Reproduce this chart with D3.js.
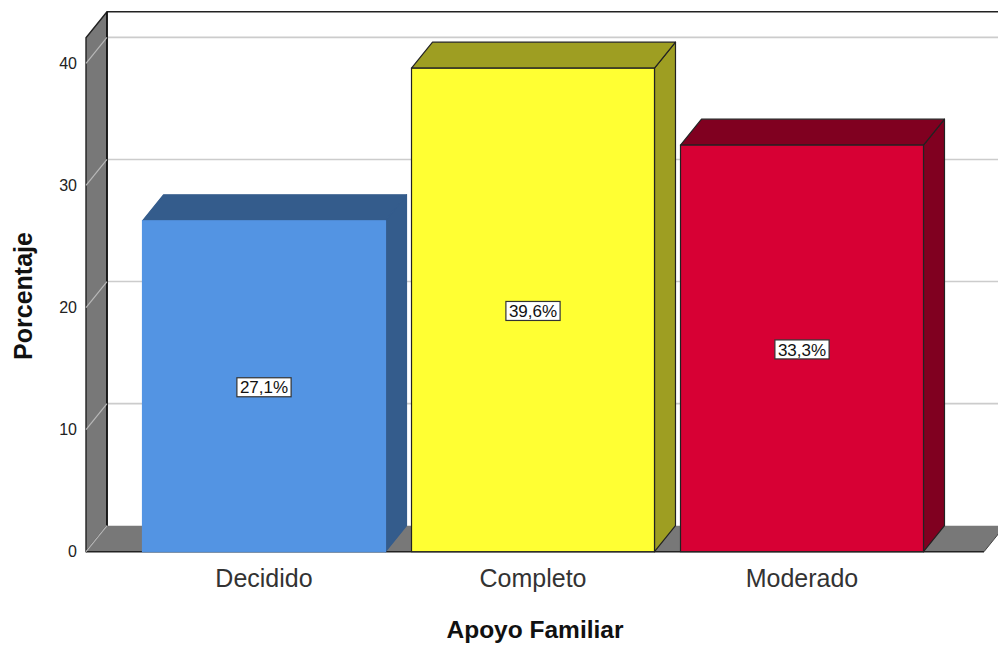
<!DOCTYPE html>
<html>
<head>
<meta charset="utf-8">
<script src="https://cdn.jsdelivr.net/npm/d3@7"></script>
<style>
  html, body { margin: 0; padding: 0; background: #ffffff; }
  svg { display: block; }
  text { font-family: "Liberation Sans", Arial, sans-serif; }
</style>
</head>
<body>
<svg id="chart" width="998" height="646"></svg>
<script>
// ---- data ----
const categories = ["Decidido", "Completo", "Moderado"];
const values = [27.1, 39.6, 33.3];
const valueLabels = ["27,1%", "39,6%", "33,3%"];
const yTicks = [0, 10, 20, 30, 40];
const frontColors = ["#5394e3", "#ffff33", "#d70034"];
const shadeColors = ["#345c8c", "#9e9e22", "#800020"];
const outlined = [false, true, true];
const xTitle = "Apoyo Familiar";
const yTitle = "Porcentaje";

// ---- layout ----
const svg = d3.select("#chart");
const front = { left: 86, right: 984, bottom: 551.7, top: 37.7 };
const depth = { dx: 21, dy: -26 };

const y = d3.scaleLinear().domain([0, 42.1]).range([front.bottom, front.top]);
const x = d3.scaleBand().domain(categories).range([front.left - 2, front.right - 2])
  .paddingInner(0.0967).paddingOuter(0.2175);

const poly = pts => pts.map(p => p.join(",")).join(" ");

// back wall gridlines
const grid = svg.append("g");
yTicks.filter(t => t > 0).forEach(t => {
  const yy = y(t);
  grid.append("line")
    .attr("x1", front.left + depth.dx).attr("x2", 998)
    .attr("y1", yy + depth.dy).attr("y2", yy + depth.dy)
    .attr("stroke", "#cccccc").attr("stroke-width", 1.6);
});
// back wall top edge
svg.append("line")
  .attr("x1", front.left + depth.dx).attr("x2", 998)
  .attr("y1", y(42.1) + depth.dy).attr("y2", y(42.1) + depth.dy)
  .attr("stroke", "#222").attr("stroke-width", 1.6);

// left wall
const yTop = y(42.1), yBot = y(0);
svg.append("polygon")
  .attr("points", poly([[front.left, yBot], [front.left, yTop],
    [front.left + depth.dx, yTop + depth.dy], [front.left + depth.dx, yBot + depth.dy]]))
  .attr("fill", "#787878").attr("stroke", "#222").attr("stroke-width", 1.4)
  .attr("stroke-linejoin", "round");

// floor
svg.append("polygon")
  .attr("points", poly([[front.left, yBot], [front.right, yBot],
    [front.right + depth.dx, yBot + depth.dy], [front.left + depth.dx, yBot + depth.dy]]))
  .attr("fill", "#787878");
svg.append("line")
  .attr("x1", front.left).attr("x2", front.right)
  .attr("y1", yBot).attr("y2", yBot)
  .attr("stroke", "#222").attr("stroke-width", 1.6);
svg.append("line")
  .attr("x1", front.right).attr("x2", front.right + depth.dx)
  .attr("y1", yBot).attr("y2", yBot + depth.dy)
  .attr("stroke", "#444").attr("stroke-width", 1);
// back wall left edge
svg.append("line")
  .attr("x1", front.left + depth.dx).attr("x2", front.left + depth.dx)
  .attr("y1", yTop + depth.dy).attr("y2", yBot + depth.dy)
  .attr("stroke", "#111").attr("stroke-width", 1.6);

// gridlines on left wall (diagonal)
yTicks.forEach(t => {
  const yy = y(t);
  svg.append("line")
    .attr("x1", front.left).attr("y1", yy)
    .attr("x2", front.left + depth.dx).attr("y2", yy + depth.dy)
    .attr("stroke", "#b8b8b8").attr("stroke-width", 1.2);
});

// y tick labels
svg.append("g").selectAll("text").data(yTicks).join("text")
  .attr("x", 77).attr("y", d => y(d)).attr("dy", "0.36em")
  .attr("text-anchor", "end").attr("font-size", 16).attr("fill", "#222")
  .text(d => d);

// bars
const bars = svg.append("g");
categories.forEach((c, i) => {
  const x0 = x(c), x1 = x(c) + x.bandwidth();
  const yv = y(values[i]), y0 = y(0);
  const g = bars.append("g");
  const sw = 1.2;
  const edge = outlined[i] ? "#222" : null;
  // side
  g.append("polygon")
    .attr("points", poly([[x1, y0], [x1, yv], [x1 + depth.dx, yv + depth.dy], [x1 + depth.dx, y0 + depth.dy]]))
    .attr("fill", shadeColors[i]).attr("stroke", edge || shadeColors[i])
    .attr("stroke-width", sw).attr("stroke-linejoin", "round");
  // top
  g.append("polygon")
    .attr("points", poly([[x0, yv], [x1, yv], [x1 + depth.dx, yv + depth.dy], [x0 + depth.dx, yv + depth.dy]]))
    .attr("fill", shadeColors[i]).attr("stroke", edge || shadeColors[i])
    .attr("stroke-width", sw).attr("stroke-linejoin", "round");
  // front
  g.append("rect")
    .attr("x", x0).attr("y", yv).attr("width", x.bandwidth()).attr("height", y0 - yv)
    .attr("fill", frontColors[i]).attr("stroke", edge || frontColors[i])
    .attr("stroke-width", sw);
});

// value labels
categories.forEach((c, i) => {
  const cx = x(c) + x.bandwidth() / 2;
  const cy = y(values[i] / 2) + 1;
  const g = svg.append("g");
  const t = g.append("text")
    .attr("x", cx).attr("y", cy).attr("dy", "0.36em")
    .attr("text-anchor", "middle").attr("font-size", 17).attr("fill", "#111")
    .text(valueLabels[i]);
  const bb = t.node().getBBox();
  g.insert("rect", "text")
    .attr("x", cx - (bb.width + 6) / 2).attr("y", cy - 9.5)
    .attr("width", bb.width + 6).attr("height", 19)
    .attr("fill", "#fff").attr("stroke", "#333").attr("stroke-width", 1.2);
});

// category labels
svg.append("g").selectAll("text").data(categories).join("text")
  .attr("x", d => x(d) + x.bandwidth() / 2).attr("y", 587)
  .attr("text-anchor", "middle").attr("font-size", 25).attr("fill", "#333")
  .text(d => d);

// axis titles
svg.append("text")
  .attr("x", 535).attr("y", 638).attr("text-anchor", "middle")
  .attr("font-size", 24.5).attr("font-weight", "bold").attr("fill", "#111")
  .text(xTitle);
svg.append("text")
  .attr("transform", "translate(32,296) rotate(-90)")
  .attr("text-anchor", "middle")
  .attr("font-size", 25).attr("font-weight", "bold").attr("fill", "#111")
  .text(yTitle);
</script>
</body>
</html>
